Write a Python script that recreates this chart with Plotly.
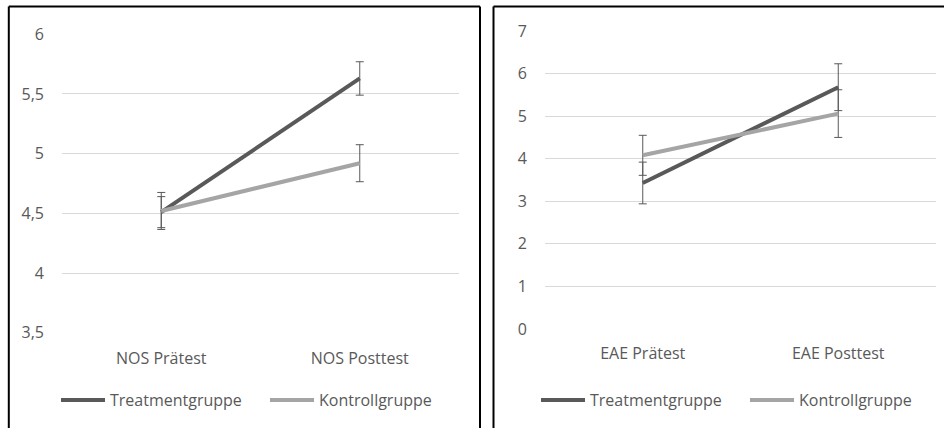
import plotly.graph_objects as go

# ---- data ----
nos_categories = ["NOS Prätest", "NOS Posttest"]
nos_treatment = [4.51, 5.63]
nos_treatment_err = [0.13, 0.14]
nos_kontroll = [4.52, 4.92]
nos_kontroll_err = [0.155, 0.155]
nos_tickvals = [3.5, 4, 4.5, 5, 5.5, 6]
nos_ticktext = ["3,5", "4", "4,5", "5", "5,5", "6"]

eae_categories = ["EAE Prätest", "EAE Posttest"]
eae_treatment = [3.43, 5.68]
eae_treatment_err = [0.49, 0.55]
eae_kontroll = [4.08, 5.06]
eae_kontroll_err = [0.47, 0.56]
eae_tickvals = [0, 1, 2, 3, 4, 5, 6, 7]
eae_ticktext = ["0", "1", "2", "3", "4", "5", "6", "7"]

series_names = ["Treatmentgruppe", "Kontrollgruppe"]

# ---- style ----
W, H = 944, 428
DARK = "#595959"
LIGHT = "#A5A5A5"
GRID = "#D9D9D9"
TXT = "#595959"
FONT = "Open Sans"

def px(x):
    return x / W

def py(y):
    return 1 - y / H

fig = go.Figure()

def add_series(xaxis, yaxis, legend, cats, vals, errs, color, name):
    fig.add_trace(go.Scatter(
        x=cats, y=vals, mode="lines", name=name,
        line=dict(color=color, width=4),
        error_y=dict(type="data", array=errs, visible=True,
                     color=DARK, thickness=1, width=4),
        xaxis=xaxis, yaxis=yaxis, legend=legend,
    ))

add_series("x", "y", "legend", nos_categories, nos_treatment, nos_treatment_err, DARK, series_names[0])
add_series("x", "y", "legend", nos_categories, nos_kontroll, nos_kontroll_err, LIGHT, series_names[1])
add_series("x2", "y2", "legend2", eae_categories, eae_treatment, eae_treatment_err, DARK, series_names[0])
add_series("x2", "y2", "legend2", eae_categories, eae_kontroll, eae_kontroll_err, LIGHT, series_names[1])

xcommon = dict(type="category", range=[-0.5, 1.5], showgrid=False, zeroline=False,
               showline=False, ticks="", tickfont=dict(family=FONT, size=16, color=TXT))
ycommon = dict(showgrid=True, gridcolor=GRID, gridwidth=1, zeroline=False,
               showline=False, ticks="", tickfont=dict(family=FONT, size=16, color=TXT))

legcommon = dict(orientation="h", xanchor="left", yanchor="middle",
                 font=dict(family=FONT, size=16, color=TXT),
                 itemwidth=44, entrywidth=150, entrywidthmode="pixels",
                 bgcolor="rgba(0,0,0,0)", tracegroupgap=0)

fig.update_layout(
    width=W, height=H,
    margin=dict(l=0, r=0, t=0, b=0, pad=0, autoexpand=False),
    paper_bgcolor="white", plot_bgcolor="white",
    showlegend=True,
    xaxis=dict(xcommon, domain=[px(62), px(459)], anchor="y", ticklabelstandoff=14),
    yaxis=dict(ycommon, domain=[py(332.7), py(34.3)], anchor="x", range=[3.5, 6],
               tickvals=nos_tickvals, ticktext=nos_ticktext, ticklabelstandoff=17),
    xaxis2=dict(xcommon, domain=[px(545), px(936)], anchor="y2", ticklabelstandoff=13),
    yaxis2=dict(ycommon, domain=[py(329), py(31)], anchor="x2", range=[0, 7],
                tickvals=eae_tickvals, ticktext=eae_ticktext, ticklabelstandoff=17),
    legend=dict(legcommon, x=px(56), y=py(400)),
    legend2=dict(legcommon, x=px(536), y=py(400)),
)

# panel borders
border = dict(type="line", xref="paper", yref="paper", line=dict(color="black", width=2))
for x0, y0, x1, y1 in [
    (8.8, 6.5, 8.8, 440), (8.8, 6.5, 480, 6.5), (480, 6.5, 480, 440),
    (493.5, 6.5, 493.5, 440), (493.5, 6.5, 960, 6.5),
]:
    fig.add_shape(border, x0=px(x0), y0=py(y0), x1=px(x1), y1=py(y1))

fig.write_html("out.html", config={"displayModeBar": False},
               post_script="document.body.style.margin='0px';")
